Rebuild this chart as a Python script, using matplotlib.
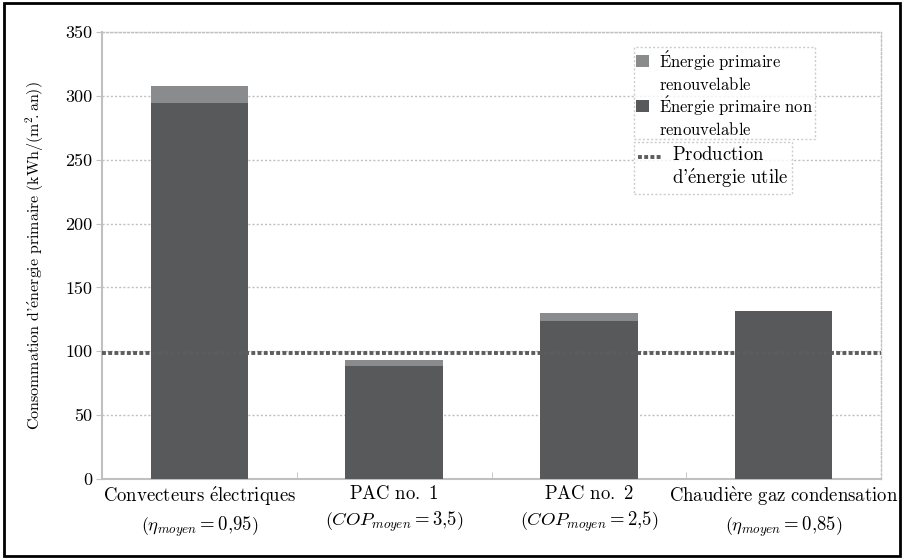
import matplotlib
matplotlib.use("Agg")
import matplotlib.pyplot as plt
from matplotlib.patches import Patch, Rectangle
from matplotlib.lines import Line2D
from matplotlib.legend_handler import HandlerLine2D, HandlerPatch
from matplotlib.mathtext import MathTextParser
import numpy as np

plt.rcParams['font.family'] = ['cmr10', 'DejaVu Serif']
plt.rcParams['mathtext.fontset'] = 'cm'
plt.rcParams['axes.formatter.use_mathtext'] = True

# apostrophe handling in mathtext
_APOS = r"\text{'}"
try:
    MathTextParser('path').parse(r"$\mathrm{d" + _APOS + r"e}$", 72)
except Exception:
    _APOS = "\u2019"


def tx(s):
    """Turn a plain (possibly accented) line into Computer Modern mathtext."""
    out = []
    for line in s.split("\n"):
        r = (line.replace("é", r"\acute{e}").replace("è", r"\grave{e}")
             .replace("É", r"\acute{E}").replace("'", "@APOS@")
             .replace(".", "{.}")
             .replace(" ", r"\ ").replace("@APOS@", _APOS))
        out.append(r"$\mathrm{" + r + "}$")
    return "\n".join(out)


cat_names = ["Convecteurs électriques", "PAC no. 1", "PAC no. 2", "Chaudière gaz condensation"]
cat_params = [r"$\left(\eta_{moyen}{=}0{,}95\right)$",
              r"$\left(COP_{moyen}{=}3{,}5\right)$",
              r"$\left(COP_{moyen}{=}2{,}5\right)$",
              r"$\left(\eta_{moyen}{=}0{,}85\right)$"]
non_renouvelable = [294, 88.5, 124, 131.5]
renouvelable = [14, 4.7, 6, 0]
production_utile = 99
yticks = [0, 50, 100, 150, 200, 250, 300, 350]
series_labels = ["Énergie primaire\nrenouvelable", "Énergie primaire non\nrenouvelable"]
line_label = "Production\nd'énergie utile"
y_title = r"Consommation d'énergie primaire (kWh/(m^2\!.an))"

c_dark = '#58595b'
c_light = '#8a8b8d'
c_grid = '#c0c0c0'
c_prod = '#5c5c5c'


class HandlerLineTop(HandlerLine2D):
    """Line handle placed at the height of the first text line."""
    def create_artists(self, legend, orig_handle, xdescent, ydescent, width,
                       height, fontsize, trans):
        arts = super().create_artists(legend, orig_handle, xdescent, ydescent,
                                      width, height, fontsize, trans)
        for a in arts:
            a.set_ydata(np.asarray(a.get_ydata(), dtype=float) + 0.62 * fontsize)
        return arts


class HandlerPatchTop(HandlerPatch):
    """Square handle placed at the height of the first text line."""
    def create_artists(self, legend, orig_handle, xdescent, ydescent, width,
                       height, fontsize, trans):
        arts = super().create_artists(legend, orig_handle, xdescent, ydescent,
                                      width, height, fontsize, trans)
        for a in arts:
            a.set_y(a.get_y() + 0.6 * fontsize)
        return arts


fig = plt.figure(figsize=(9.04, 5.59), dpi=100)
ax = fig.add_axes([0.1128, 0.1431, 0.8618, 0.7997])

x = np.arange(len(cat_names))
ax.bar(x, non_renouvelable, width=0.5, color=c_dark, zorder=3)
ax.bar(x, renouvelable, width=0.5, bottom=non_renouvelable, color=c_light, zorder=3)
ax.axhline(production_utile, color=c_prod, lw=2.8, ls=(0, (1.0, 0.6)), zorder=4)

ax.set_xlim(-0.5, 3.5)
ax.set_ylim(0, 350)
ax.set_yticks(yticks)
ax.set_yticklabels([str(v) for v in yticks], fontsize=13)
ax.yaxis.grid(True, color=c_grid, ls=(0, (1.5, 1.5)), lw=1)
ax.set_axisbelow(True)

ax.set_xticks(x)
ax.set_xticklabels([tx(n) + "\n" + p for n, p in zip(cat_names, cat_params)],
                   fontsize=13.5, linespacing=1.45)
ax.set_xticks([0.5, 1.5, 2.5], minor=True)
ax.tick_params(axis='x', which='major', length=0, pad=4)
ax.tick_params(axis='x', which='minor', length=5, color=c_grid, direction='in')
ax.tick_params(axis='y', length=4, color=c_grid, pad=3)

for s in ['left', 'bottom']:
    ax.spines[s].set_color(c_grid)
    ax.spines[s].set_linewidth(1.5)
for s in ['top', 'right']:
    ax.spines[s].set_color(c_grid)
    ax.spines[s].set_linestyle((0, (1.5, 1.5)))
    ax.spines[s].set_linewidth(1)

ax.set_ylabel(tx(y_title), fontsize=11.5, labelpad=14)

h1 = [Patch(facecolor=c_light, edgecolor='none'), Patch(facecolor=c_dark, edgecolor='none')]
leg1 = ax.legend(h1, [tx(l) for l in series_labels],
                 loc='upper left', bbox_to_anchor=(0.683, 0.966), fontsize=12,
                 frameon=True, fancybox=False, handlelength=0.8, handleheight=0.7,
                 handletextpad=0.6, borderpad=0.1, labelspacing=0.02, borderaxespad=0,
                 handler_map={Patch: HandlerPatchTop()})
leg1.get_frame().set_edgecolor(c_grid)
leg1.get_frame().set_linestyle((0, (1.5, 1.5)))
leg1.get_frame().set_linewidth(1)
ax.add_artist(leg1)

h2 = [Line2D([0], [0], color=c_prod, lw=2.8, ls=(0, (1.0, 0.6)))]
leg2 = ax.legend(h2, [tx(line_label)],
                 loc='upper left', bbox_to_anchor=(0.683, 0.754), fontsize=13.5,
                 frameon=True, fancybox=False, handlelength=1.3,
                 handletextpad=0.5, borderpad=0.2, borderaxespad=0,
                 handler_map={Line2D: HandlerLineTop()})
leg2.get_frame().set_edgecolor(c_grid)
leg2.get_frame().set_linestyle((0, (1.5, 1.5)))
leg2.get_frame().set_linewidth(1)

fig.patches.append(Rectangle((0.004, 0.006), 0.992, 0.988, transform=fig.transFigure,
                             fill=False, edgecolor='black', lw=2))

fig.savefig('out.png', dpi=100)
